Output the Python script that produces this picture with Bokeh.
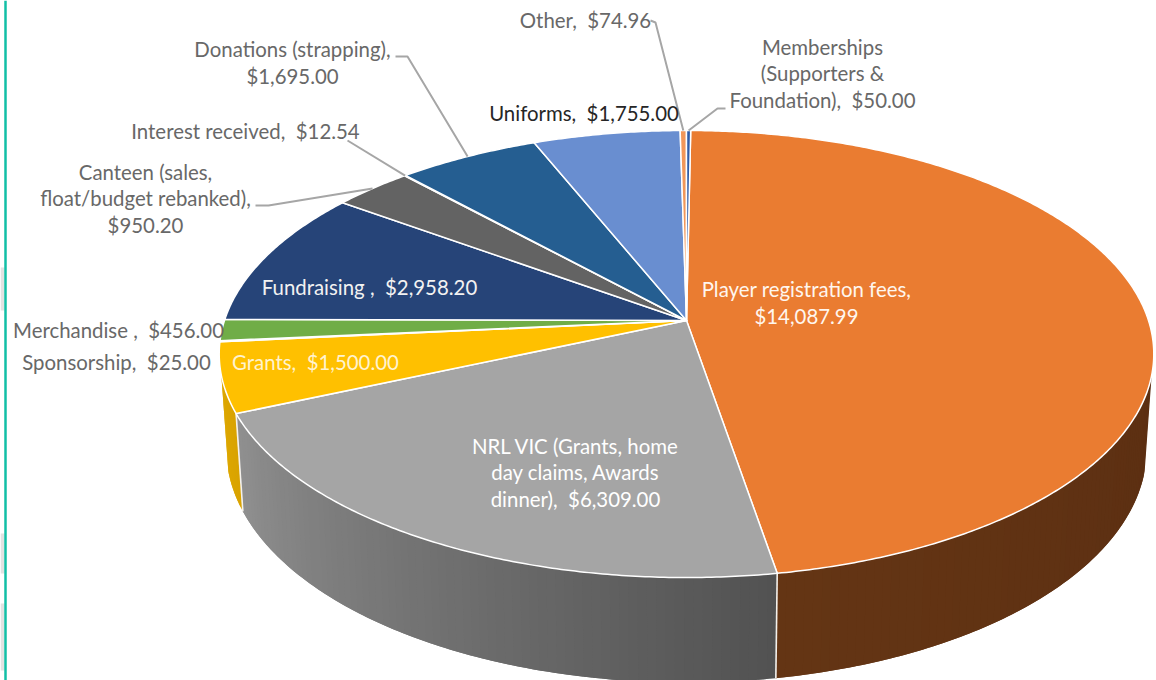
import numpy as np
from bokeh.plotting import figure
from bokeh.models import Range1d
from bokeh.core.properties import value
from bokeh.embed import file_html
from bokeh.resources import INLINE

# ---- data (clockwise from 12 o'clock) ----
categories = ["Player registration fees", "NRL VIC", "Grants", "Sponsorship", "Merchandise",
              "Fundraising", "Canteen", "Interest received", "Donations", "Uniforms",
              "Other", "Memberships"]
amounts = [14087.99, 6309.00, 1500.00, 25.00, 456.00, 2958.20, 950.20, 12.54,
           1695.00, 1755.00, 74.96, 50.00]
top_colors = ["#EA7C31", "#A5A5A5", "#FFC000", "#5B9BD5", "#70AD47", "#264478", "#636363",
              "#997300", "#255E91", "#698ED0", "#F1975A", "#2F5CA8"]
NB = "\u00a0"
label_texts = ["Player registration fees,\n$14,087.99",
               f"NRL VIC (Grants, home\nday claims, Awards\ndinner),{NB} $6,309.00",
               f"Grants,{NB} $1,500.00",
               f"Sponsorship,{NB} $25.00",
               f"Merchandise ,{NB} $456.00",
               f"Fundraising ,{NB} $2,958.20",
               "Canteen (sales,\nfloat/budget rebanked),\n$950.20",
               f"Interest received,{NB} $12.54",
               "Donations (strapping),\n$1,695.00",
               f"Uniforms,{NB} $1,755.00",
               f"Other,{NB} $74.96",
               f"Memberships\n(Supporters &\nFoundation),{NB} $50.00"]

# ---- layout: the data space is the reference's pixel grid ----
label_x = [806, 575, 315, 116, 118, 369, 145, 245, 292, 583.5, 585, 822]
label_y = [302, 472, 361, 361, 329, 286, 198, 130, 62, 112, 19, 73]
label_colors = ["#FFF6EE", "#FFFFFF", "#FFF3CF", "#686868", "#686868", "#F2F2F2", "#686868",
                "#686868", "#686868", "#262626", "#686868", "#686868"]
leaders = {6: [(255, 205), (268, 205)], 7: [(347, 140)], 8: [(395, 56), (407, 56)],
           10: [(650, 20), (655, 22)], 11: [(725, 108), (717, 108)]}

CX, CY, A, B, K = 686.0, 320.0, 462.0, 218.5, 0.15
START = 0.6
WALL_FROM, WALL_TO = 104, 256


def rim(theta):
    t = np.radians(theta)
    px, py = np.sin(t), -np.cos(t)
    w = 1 - K * py
    return CX + A * px / w, CY + B * py / w, py


def lower(theta):
    x, y, py = rim(theta)
    return CX + (x - CX) * 0.985, y + 93 + 12 * py


def lerp(c0, c1, f):
    a = [int(c0[i:i + 2], 16) for i in (1, 3, 5)]
    b = [int(c1[i:i + 2], 16) for i in (1, 3, 5)]
    return "#%02x%02x%02x" % tuple(int(round(u + (v - u) * f)) for u, v in zip(a, b))


amt = np.array(amounts)
edges = START + np.concatenate([[0], np.cumsum(amt)]) / amt.sum() * 360

p = figure(width=1156, height=680, x_range=Range1d(0, 1156), y_range=Range1d(680, 0),
           toolbar_location=None, output_backend="svg", min_border=0,
           x_axis_location=None, y_axis_location=None)
p.grid.visible = False
p.outline_line_color = None

# slide background: faint grey shapes at the far left, and the frame line
p.quad(left=[0, 0, 0], right=[4, 4, 4], top=[267, 533, 603], bottom=[310, 573, 670],
       fill_color="#E2E2E2", line_color=None)
p.segment([5], [0], [5], [680], line_color="#12BFA6", line_width=2.5)

# side walls: gradient strips, each overlapping the next so that no seam shows
# shades run from the right-hand end of the slice's wall to its left-hand end
wall_shades = {0: ("#5C2F12", "#643514"), 1: ("#525252", "#909090"), 2: ("#D9A300", "#DDA700")}
xs, ys, cs = [], [], []
for i, (c0, c1) in wall_shades.items():
    a0, a1 = max(edges[i], WALL_FROM), min(edges[i + 1], WALL_TO)
    th = np.linspace(a0, a1, int(a1 - a0) + 2)
    for j in range(len(th) - 1):
        seg = np.linspace(th[j], th[min(j + 2, len(th) - 1)], 4)
        x, y, _ = rim(seg)
        lx, ly = lower(seg)
        xs.append(list(x) + list(lx[::-1]))
        ys.append(list(y) + list(ly[::-1]))
        cs.append(lerp(c0, c1, j / max(len(th) - 2, 1)))
p.patches(xs, ys, fill_color=cs, line_color=None)

# white separators on the wall
for e in (edges[1], edges[2]):
    x0, y0, _ = rim(e)
    x1, y1 = lower(e)
    p.line([x0, x1], [y0, y1], line_color="#F4F1EC", line_width=1.6)

# top face
xs, ys = [], []
for i in range(len(amounts)):
    th = np.linspace(edges[i], edges[i + 1], max(int((edges[i + 1] - edges[i]) * 2), 2) + 1)
    x, y, _ = rim(th)
    xs.append([CX] + list(x))
    ys.append([CY] + list(y))
p.patches(xs, ys, fill_color=top_colors, line_color="#FFFFFF", line_width=1.5, line_join="round")

# leader lines
for i, pts in leaders.items():
    ex, ey, _ = rim((edges[i] + edges[i + 1]) / 2)
    p.line([q[0] for q in pts] + [ex], [q[1] for q in pts] + [ey],
           line_color="#A6A6A6", line_width=2)

p.text(label_x, label_y, text=label_texts, text_color=label_colors,
       text_font=value("Lato"), text_font_size="20.4px", text_align="center",
       text_baseline="middle", text_line_height=1.11)

open("out.html", "w").write(file_html(p, INLINE))
